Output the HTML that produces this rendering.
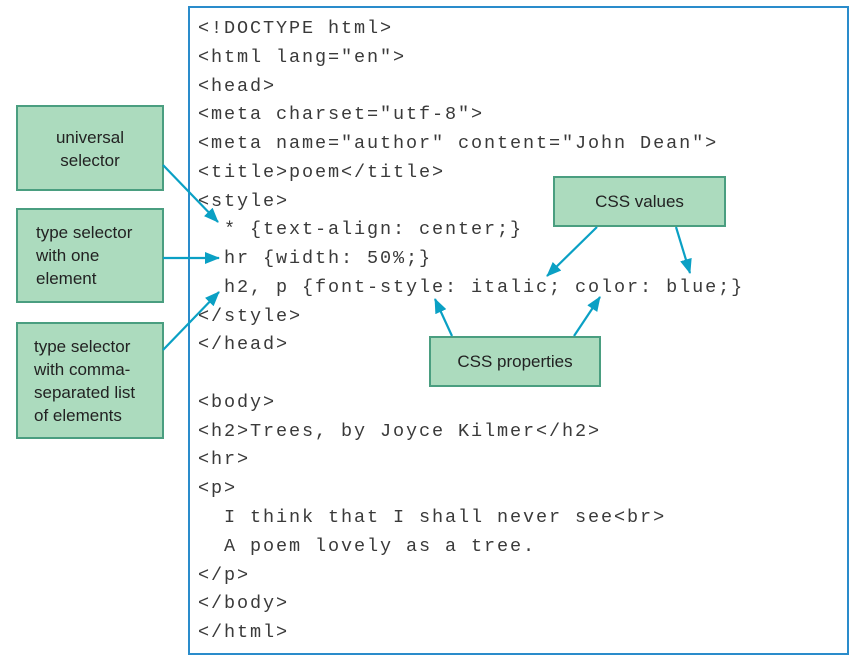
<!DOCTYPE html>
<html><head><style>
body{margin:0;width:857px;height:660px;background:#fff;position:relative;overflow:hidden;font-family:"Liberation Sans",sans-serif;}
.code{position:absolute;left:188px;top:6px;width:657px;height:645px;border:2px solid #2a8ccb;box-sizing:content-box;}
pre{position:absolute;left:198px;top:15px;margin:0;font-family:"Liberation Mono",monospace;font-size:18.5px;letter-spacing:1.9px;line-height:28.76px;color:#3a3a3a;}
.b{position:absolute;background:#acdbbe;border:2px solid #4a9e80;box-sizing:border-box;color:#222;font-size:17px;line-height:23px;}
</style></head><body>
<div class="code"></div>
<pre>&lt;!DOCTYPE html&gt;
&lt;html lang="en"&gt;
&lt;head&gt;
&lt;meta charset="utf-8"&gt;
&lt;meta name="author" content="John Dean"&gt;
&lt;title&gt;poem&lt;/title&gt;
&lt;style&gt;
  * {text-align: center;}
  hr {width: 50%;}
  h2, p {font-style: italic; color: blue;}
&lt;/style&gt;
&lt;/head&gt;

&lt;body&gt;
&lt;h2&gt;Trees, by Joyce Kilmer&lt;/h2&gt;
&lt;hr&gt;
&lt;p&gt;
  I think that I shall never see&lt;br&gt;
  A poem lovely as a tree.
&lt;/p&gt;
&lt;/body&gt;
&lt;/html&gt;</pre>
<div class="b" style="left:16px;top:105px;width:148px;height:86px;text-align:center;padding-top:19px;">universal<br>selector</div>
<div class="b" style="left:16px;top:208px;width:148px;height:95px;padding:11px 0 0 18px;">type selector<br>with one<br>element</div>
<div class="b" style="left:16px;top:322px;width:148px;height:117px;padding:11px 0 0 16px;">type selector<br>with comma-<br>separated list<br>of elements</div>
<div class="b" style="left:553px;top:176px;width:173px;height:51px;text-align:center;padding-top:12px;">CSS values</div>
<div class="b" style="left:429px;top:336px;width:172px;height:51px;text-align:center;padding-top:12px;">CSS properties</div>
<svg width="857" height="660" style="position:absolute;left:0;top:0">
<defs><marker id="a" markerWidth="15" markerHeight="12" refX="14" refY="6" orient="auto" markerUnits="userSpaceOnUse"><path d="M0,0L15,6L0,12z" fill="#0aa0c4"/></marker></defs>
<g stroke="#0aa0c4" stroke-width="2.2" marker-end="url(#a)">
<line x1="163" y1="165" x2="218" y2="222"/>
<line x1="163" y1="258" x2="219" y2="258"/>
<line x1="163" y1="350" x2="219" y2="292"/>
<line x1="597" y1="227" x2="547" y2="276"/>
<line x1="676" y1="227" x2="690" y2="273"/>
<line x1="452" y1="336" x2="435" y2="299"/>
<line x1="574" y1="336" x2="600" y2="297"/>
</g></svg>
</body></html>
